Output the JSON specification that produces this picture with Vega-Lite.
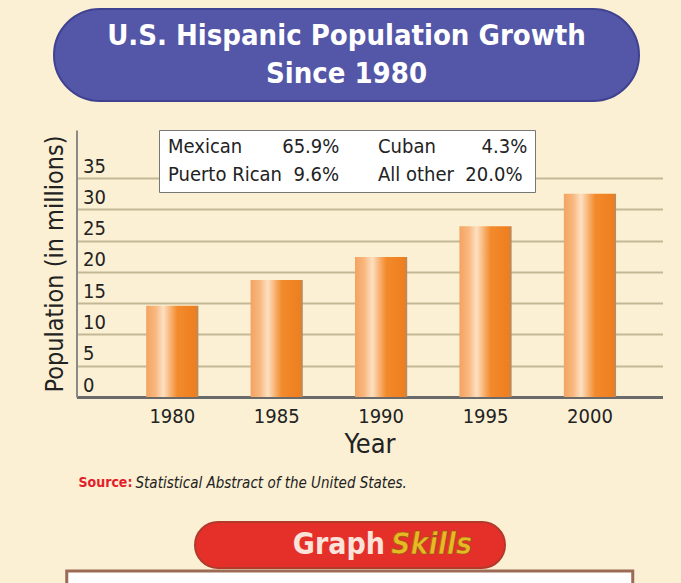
{
  "$schema": "https://vega.github.io/schema/vega-lite/v6.json",
  "background": "#FBF0D3",
  "padding": {"left": 42, "top": 8, "right": 0, "bottom": 0},
  "spacing": 28,
  "center": true,
  "config": {
    "font": "DejaVu Sans Condensed, DejaVu Sans, sans-serif",
    "view": {"stroke": null}
  },
  "vconcat": [
    {
      "spacing": 0,
      "hconcat": [
        {
          "width": 585,
          "height": 92,
          "view": {"fill": "#5457A8", "cornerRadius": 46, "stroke": "#3F4290", "strokeWidth": 2},
          "data": {"values": [
            {"line": "U.S. Hispanic Population Growth", "order": 1},
            {"line": "Since 1980", "order": 2}
          ]},
          "mark": {"type": "text", "color": "white", "fontSize": 29, "fontWeight": "bold", "baseline": "middle"},
          "encoding": {
            "y": {"field": "order", "type": "ordinal", "axis": null, "scale": {"type": "point", "padding": 0.71}},
            "text": {"field": "line"}
          }
        },
        {
          "width": 45,
          "height": 92,
          "data": {"values": [{"t": ""}]},
          "mark": {"type": "text"},
          "encoding": {"text": {"field": "t"}}
        }
      ]
    },
    {
      "spacing": 16,
      "center": true,
      "vconcat": [
        {
          "width": 586,
          "height": 267,
          "layer": [
            {
              "data": {"values": [
                {"year": "1980", "population": 14.6},
                {"year": "1985", "population": 18.7},
                {"year": "1990", "population": 22.4},
                {"year": "1995", "population": 27.3},
                {"year": "2000", "population": 32.5}
              ]},
              "mark": {
                "type": "bar",
                "color": {
                  "gradient": "linear", "x1": 0, "y1": 0, "x2": 1, "y2": 0,
                  "stops": [
                    {"offset": 0, "color": "#F4A360"},
                    {"offset": 0.18, "color": "#F8B880"},
                    {"offset": 0.33, "color": "#FDE0C2"},
                    {"offset": 0.5, "color": "#F7A860"},
                    {"offset": 0.6, "color": "#F28A2C"},
                    {"offset": 0.93, "color": "#EF7F1F"},
                    {"offset": 1, "color": "#B88A60"}
                  ]
                }
              },
              "encoding": {
                "x": {
                  "field": "year", "type": "ordinal",
                  "scale": {"paddingInner": 0.5, "paddingOuter": 0.556, "align": 0.6},
                  "axis": {
                    "title": "Year", "labelAngle": 0, "labelFontSize": 20, "labelColor": "#222",
                    "labelPadding": 9, "ticks": false, "domainColor": "#6A6A6A", "domainWidth": 3,
                    "titleFontSize": 27, "titleFontWeight": "normal", "titleColor": "#222", "titlePadding": 5
                  }
                },
                "y": {
                  "field": "population", "type": "quantitative",
                  "scale": {"domain": [0, 42.7], "nice": false},
                  "axis": {
                    "title": "Population (in millions)", "values": [0, 5, 10, 15, 20, 25, 30, 35],
                    "grid": true, "gridColor": "#C4B796", "gridWidth": 2,
                    "ticks": false, "domainColor": "#8A8A8A", "domainWidth": 2,
                    "labelAlign": "left", "labelPadding": -6, "labelBaseline": "alphabetic", "labelOffset": -6,
                    "labelFontSize": 20, "labelColor": "#222",
                    "titleFontSize": 25, "titleFontWeight": "normal", "titleColor": "#222", "titlePadding": 9
                  }
                }
              }
            },
            {
              "data": {"values": [
                {"label": "Mexican\u00a0\u00a0\u00a0\u00a0\u00a0\u00a0\u00a065.9%"},
                {"label": "Puerto Rican\u00a0\u00a09.6%"},
                {"label": "Cuban\u00a0\u00a0\u00a0\u00a0\u00a0\u00a0\u00a0\u00a04.3%"},
                {"label": "All other\u00a0\u00a020.0%"}
              ]},
              "mark": {"type": "point", "opacity": 0},
              "encoding": {
                "color": {
                  "field": "label", "type": "nominal", "sort": null,
                  "legend": {
                    "title": null, "orient": "none", "legendX": 105, "legendY": 121,
                    "columns": 2, "columnPadding": 36, "rowPadding": 8,
                    "fillColor": "white", "strokeColor": "#777", "padding": 7,
                    "symbolSize": 1, "symbolOpacity": 0, "symbolStrokeWidth": 0, "labelOffset": -18,
                    "labelFontSize": 20, "labelColor": "#222", "labelLimit": 400,
                    "encode": {"legend": {"update": {"strokeWidth": {"value": 3}}}}
                  }
                }
              }
            }
          ]
        },
        {
          "width": 582,
          "height": 20,
          "data": {"values": [{"lead": "Source:", "note": "Statistical Abstract of the United States."}]},
          "layer": [
            {
              "mark": {"type": "text", "align": "left", "baseline": "middle", "color": "#E3202A", "fontWeight": "bold", "fontSize": 14},
              "encoding": {"x": {"value": 0}, "text": {"field": "lead"}}
            },
            {
              "mark": {"type": "text", "align": "left", "baseline": "middle", "dx": 57, "color": "#222", "fontStyle": "italic", "fontSize": 15},
              "encoding": {"x": {"value": 0}, "text": {"field": "note"}}
            }
          ]
        }
      ]
    },
    {
      "spacing": 0,
      "hconcat": [
        {
          "spacing": 0,
          "center": true,
          "vconcat": [
            {
              "width": 310,
              "height": 46,
              "view": {"fill": "#E5302A", "cornerRadius": 23, "stroke": "#B23A2A", "strokeWidth": 2},
              "data": {"values": [{"a": "Graph", "b": "Skills"}]},
              "layer": [
                {
                  "mark": {"type": "text", "align": "right", "baseline": "middle", "dx": 35, "color": "#FBE3DA", "fontWeight": "bold", "fontSize": 30},
                  "encoding": {"text": {"field": "a"}}
                },
                {
                  "mark": {"type": "text", "align": "left", "baseline": "middle", "dx": 41, "color": "#E9B824", "stroke": "#8A5A10", "strokeWidth": 0.6, "fontWeight": "bold", "fontStyle": "italic", "fontSize": 30},
                  "encoding": {"text": {"field": "b"}}
                }
              ]
            },
            {
              "width": 566,
              "height": 38,
              "view": {"fill": "white", "stroke": "#9C6A55", "strokeWidth": 3},
              "data": {"values": [{"t": ""}]},
              "mark": {"type": "text"},
              "encoding": {"text": {"field": "t"}}
            }
          ]
        },
        {
          "width": 38,
          "height": 20,
          "data": {"values": [{"t": ""}]},
          "mark": {"type": "text"},
          "encoding": {"text": {"field": "t"}}
        }
      ]
    }
  ]
}
